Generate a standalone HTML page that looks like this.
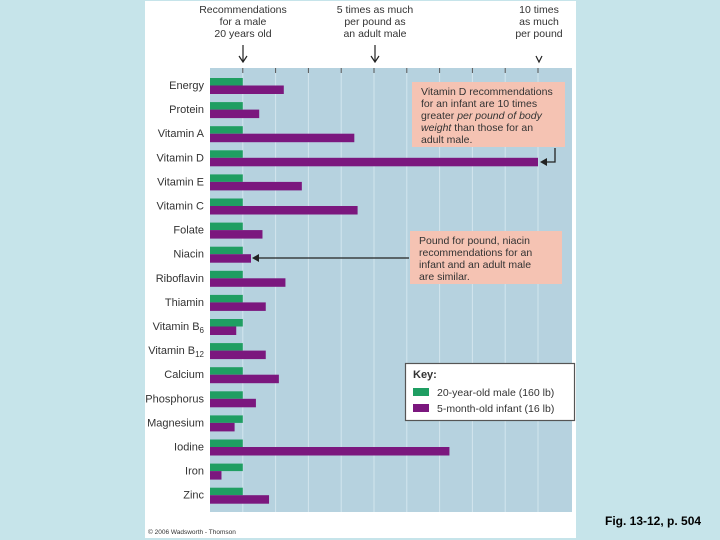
<!DOCTYPE html>
<html><head><meta charset="utf-8">
<style>
html,body{margin:0;padding:0;width:720px;height:540px;overflow:hidden;background:#c6e4ea;font-family:"Liberation Sans",sans-serif;}
svg{position:absolute;left:0;top:0;}
</style></head><body>
<svg id="chart" width="720" height="540">
<rect x="145" y="1" width="431" height="537" fill="#ffffff"/>
<rect x="210" y="68" width="362" height="444" fill="#b6d2df"/>
<g id="grid"></g>
<g id="bars"></g>
<g id="labels" font-size="11" fill="#333" text-anchor="end"></g>
<g font-size="10.5" fill="#333" text-anchor="middle">
<text x="243" y="13">Recommendations</text><text x="243" y="25">for a male</text><text x="243" y="37">20 years old</text>
<text x="375" y="13">5 times as much</text><text x="375" y="25">per pound as</text><text x="375" y="37">an adult male</text>
<text x="539" y="13">10 times</text><text x="539" y="25">as much</text><text x="539" y="37">per pound</text>
<path d="M243 45 V62 M239 56 L243 62 L247 56 M375 45 V62 M371 56 L375 62 L379 56 M536 56 L539 62 L542 56" stroke="#222" fill="none" stroke-width="1.2"/>
</g>
<g>
<rect x="412" y="82" width="153" height="65" fill="#f5c3b3"/>
<text font-size="10.5" fill="#333" x="420"><tspan x="421" y="95">Vitamin D recommendations</tspan><tspan x="421" y="107">for an infant are 10 times</tspan><tspan x="421" y="119">greater <tspan font-style="italic">per pound of body</tspan></tspan><tspan x="421" y="131" font-style="italic">weight <tspan font-style="normal">than those for an</tspan></tspan><tspan x="421" y="143">adult male.</tspan></text>
<path d="M555 148 V162 H542" stroke="#222" fill="none" stroke-width="1.3"/>
<path d="M540 162 L547 158 L547 166 Z" fill="#222"/>
</g>
<g>
<rect x="410" y="231" width="152" height="53" fill="#f5c3b3"/>
<text font-size="10.5" fill="#333"><tspan x="419" y="244">Pound for pound, niacin</tspan><tspan x="419" y="256">recommendations for an</tspan><tspan x="419" y="268">infant and an adult male</tspan><tspan x="419" y="280">are similar.</tspan></text>
<path d="M409 258 H256" stroke="#222" stroke-width="1.3"/>
<path d="M252 258 L259 254 L259 262 Z" fill="#222"/>
</g>
<g>
<rect x="405.5" y="363.5" width="169" height="57" fill="#fff" stroke="#555" stroke-width="1.2"/>
<text x="413" y="378" font-size="11" font-weight="bold" fill="#333">Key:</text>
<rect x="413" y="388" width="16" height="8" fill="#1f9e62"/>
<text x="437" y="396" font-size="10.5" fill="#333">20-year-old male (160 lb)</text>
<rect x="413" y="404" width="16" height="8" fill="#7b177e"/>
<text x="437" y="412" font-size="10.5" fill="#333">5-month-old infant (16 lb)</text>
</g>
<text x="148" y="534" font-size="6.5" fill="#333">© 2006 Wadsworth - Thomson</text>
<text x="605" y="525" font-size="12" font-weight="bold" fill="#000">Fig. 13-12, p. 504</text>
</svg>
<script>
const categories=["Energy","Protein","Vitamin A","Vitamin D","Vitamin E","Vitamin C","Folate","Niacin","Riboflavin","Thiamin","Vitamin B6","Vitamin B12","Calcium","Phosphorus","Magnesium","Iodine","Iron","Zinc"];
const maleValues=[1,1,1,1,1,1,1,1,1,1,1,1,1,1,1,1,1,1];
const infantValues=[2.25,1.5,4.4,10,2.8,4.5,1.6,1.25,2.3,1.7,0.8,1.7,2.1,1.4,0.75,7.3,0.35,1.8];
const gridTicks=[1,2,3,4,5,6,7,8,9,10];
const NS="http://www.w3.org/2000/svg";
const x0=210,unit=32.8,rowTop=78,rowStep=24.1;
const xs=v=>x0+v*unit;
const ys=i=>rowTop+i*rowStep;
function mk(tag,attrs,parent){const e=document.createElementNS(NS,tag);for(const k in attrs)e.setAttribute(k,attrs[k]);parent.appendChild(e);return e;}
const grid=document.getElementById('grid');
gridTicks.forEach(t=>{
  const l=mk('line',{x1:xs(t),x2:xs(t),y1:68,y2:512,stroke:'#d3e5ee','stroke-width':1},grid);
  
  
  const tk=mk('line',{x1:xs(t),x2:xs(t),y1:68,y2:73,stroke:'#555','stroke-width':1},grid);
  
  
});
const bars=document.getElementById('bars'),labels=document.getElementById('labels');
categories.forEach((c,i)=>{
  const y=ys(i);
  const g=mk('rect',{x:x0,y:y,width:xs(maleValues[i])-x0,height:7.5,fill:'#1f9e62'},bars);
  
  
  const p=mk('rect',{x:x0,y:y+7.5,width:xs(infantValues[i])-x0,height:8.5,fill:'#7b177e'},bars);
  
  
  const t=mk('text',{x:204,y:y+11},labels);
  
  
  const m=c.match(/^(Vitamin B)(\d+)$/);
  if(m){t.textContent=m[1];const s=mk('tspan',{'font-size':8,dy:3},t);s.textContent=m[2];}
  else t.textContent=c;
});
</script>
</body></html>
